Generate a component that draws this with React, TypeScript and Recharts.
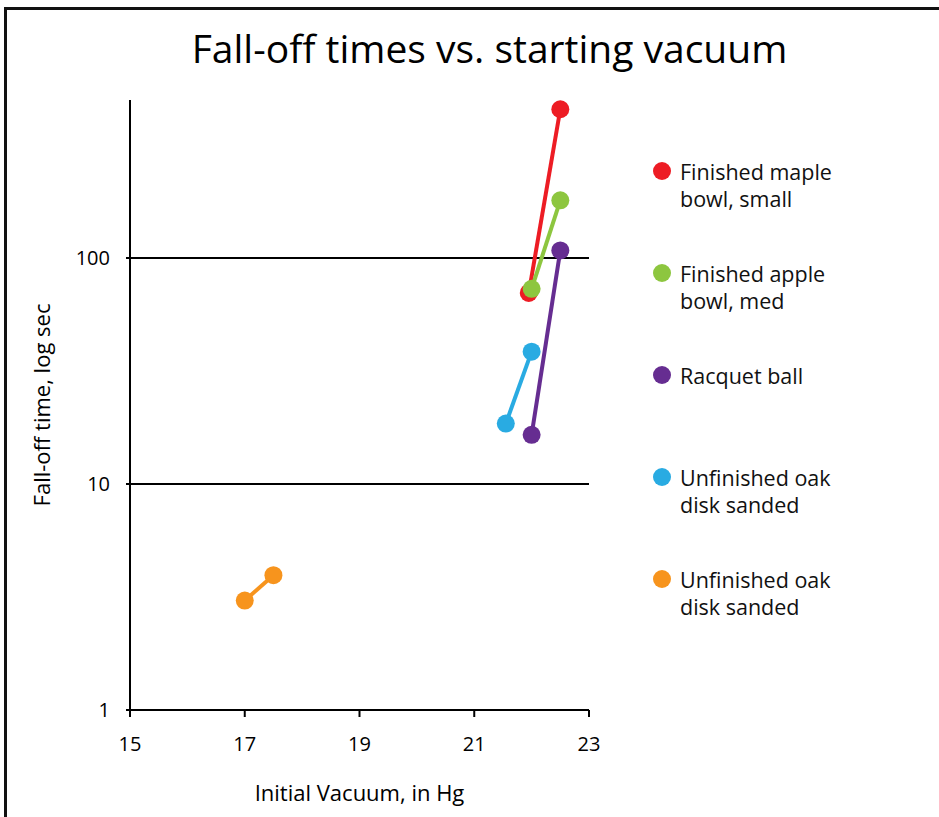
import React from "react";
import {
  ComposedChart,
  Scatter,
  XAxis,
  YAxis,
  ReferenceLine,
  Legend,
} from "recharts";

const FONT = "'Open Sans', sans-serif";

// Tick labels
const xTicks = [15, 17, 19, 21, 23];
const yTicks = [1, 10, 100];

// Series (x = initial vacuum in Hg, y = fall-off time in s)
const mapleX = [21.95, 22.5];
const mapleY = [70, 455];
const appleX = [22, 22.5];
const appleY = [73, 180];
const racquetX = [22, 22.5];
const racquetY = [16.5, 108];
const oakBlueX = [21.55, 22];
const oakBlueY = [18.5, 38.5];
const oakOrangeX = [17, 17.5];
const oakOrangeY = [3.05, 3.95];

const seriesNames = [
  ["Finished maple", "bowl, small"],
  ["Finished apple", "bowl, med"],
  ["Racquet ball"],
  ["Unfinished oak", "disk sanded"],
  ["Unfinished oak", "disk sanded"],
];
const seriesColors = ["#ED1C24", "#8DC63F", "#662D91", "#29ABE2", "#F7941D"];

const toPoints = (xs: number[], ys: number[]) =>
  xs.map((x, i) => ({ x, y: ys[i] }));

const seriesData = [
  toPoints(mapleX, mapleY),
  toPoints(appleX, appleY),
  toPoints(racquetX, racquetY),
  toPoints(oakBlueX, oakBlueY),
  toPoints(oakOrangeX, oakOrangeY),
];

const makeDot = (color: string) => (props: any) =>
  <circle cx={props.cx} cy={props.cy} r={9} fill={color} />;

const LegendContent = () => (
  <div style={{ fontFamily: FONT, fontSize: 21.5, color: "#111" }}>
    {seriesNames.map((lines, i) => (
      <div
        key={i}
        style={{ position: "absolute", left: 0, top: i * 102, display: "flex" }}
      >
        <div
          style={{
            width: 18,
            height: 18,
            borderRadius: 9,
            background: seriesColors[i],
            marginTop: 4,
            marginRight: 9,
          }}
        />
        <div style={{ lineHeight: "27px" }}>
          {lines.map((l, j) => (
            <div key={j} style={{ whiteSpace: "nowrap" }}>{l}</div>
          ))}
        </div>
      </div>
    ))}
  </div>
);

export default function App() {
  return (
    <div
      style={{
        position: "fixed",
        left: 0,
        top: 0,
        width: 939,
        height: 817,
        overflow: "hidden",
        background: "#fff",
      }}
    >
      <div
        style={{
          position: "absolute",
          left: 4,
          top: 7,
          width: 1000,
          height: 900,
          borderLeft: "3px solid #111",
          borderTop: "3px solid #111",
        }}
      />
      <div
        style={{
          position: "absolute",
          left: 0,
          top: 28,
          width: 979,
          textAlign: "center",
          fontFamily: FONT,
          fontSize: 39,
          lineHeight: "39px",
          color: "#000",
        }}
      >
        Fall-off times vs. starting vacuum
      </div>
      <div style={{ position: "absolute", left: 0, top: 0 }}>
        <ComposedChart
          width={939}
          height={817}
          margin={{ top: 100, right: 350, bottom: 7, left: 0 }}
        >
          <XAxis
            type="number"
            dataKey="x"
            domain={[15, 23]}
            ticks={xTicks}
            allowDataOverflow
            height={100}
            axisLine={{ stroke: "#000", strokeWidth: 2 }}
            tickLine={{ stroke: "#000", strokeWidth: 2 }}
            tickSize={7}
            tickMargin={20}
            tick={{ fill: "#000", fontSize: 20, fontFamily: FONT }}
            label={{
              value: "Initial Vacuum, in Hg",
              position: "center",
              dy: 33,
              fill: "#000",
              fontSize: 22,
              fontFamily: FONT,
            }}
          />
          <YAxis
            type="number"
            dataKey="y"
            scale="log"
            domain={[1, 500]}
            ticks={yTicks}
            allowDataOverflow
            width={130}
            axisLine={{ stroke: "#000", strokeWidth: 2 }}
            tickLine={{ stroke: "#000", strokeWidth: 2 }}
            tickSize={4}
            tickMargin={16}
            tick={{ fill: "#000", fontSize: 20, fontFamily: FONT }}
            label={{
              value: "Fall-off time, log sec",
              position: "center",
              angle: -90,
              dx: -23,
              dy: 0,
              fill: "#000",
              fontSize: 22,
              fontFamily: FONT,
            }}
          />
          <ReferenceLine y={10} stroke="#000" strokeWidth={2} />
          <ReferenceLine y={100} stroke="#000" strokeWidth={2} />
          {seriesData.map((d, i) => (
            <Scatter
              key={i}
              name={seriesNames[i].join(" ")}
              data={d}
              fill={seriesColors[i]}
              line={{ stroke: seriesColors[i], strokeWidth: 4 }}
              lineType="joint"
              shape={makeDot(seriesColors[i])}
              isAnimationActive={false}
            />
          ))}
          <Legend
            content={<LegendContent />}
            wrapperStyle={{ position: "absolute", left: 653, top: 158, width: 260 }}
          />
        </ComposedChart>
      </div>
    </div>
  );
}
